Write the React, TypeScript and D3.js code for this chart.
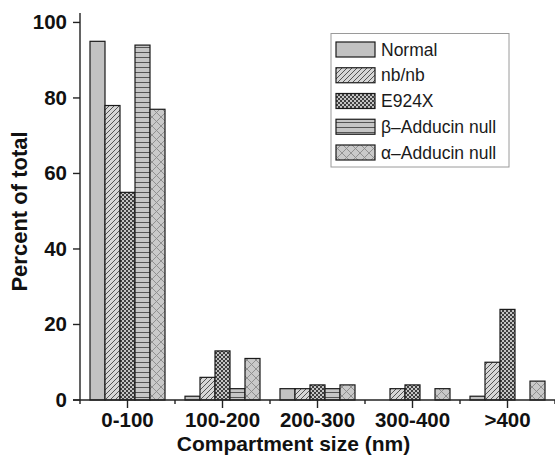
import React from "react";
import * as d3 from "d3";

const categories = ["0-100", "100-200", "200-300", "300-400", ">400"];
const seriesNames = ["Normal", "nb/nb", "E924X", "β–Adducin null", "α–Adducin null"];
const normal = [95, 1, 3, 0, 1];
const nbnb = [78, 6, 3, 3, 10];
const e924x = [55, 13, 4, 4, 24];
const betaNull = [94, 3, 3, 0, 0];
const alphaNull = [77, 11, 4, 3, 5];
const yTicks = [0, 20, 40, 60, 80, 100];

const seriesValues = [normal, nbnb, e924x, betaNull, alphaNull];
const fills = ["#c2c2c2", "url(#pNb)", "url(#pE9)", "url(#pBeta)", "url(#pAlpha)"];

export default function App() {
  const W = 555, H = 455;
  const x0 = d3.scaleBand<string>().domain(categories).range([80, 555]).paddingInner(0).paddingOuter(0);
  const x1 = d3.scaleBand<string>().domain(seriesNames).range([10, 85]);
  const y = d3.scaleLinear().domain([0, 102.5]).range([400, 13]);
  const font = "'Liberation Sans', Arial, sans-serif";
  const boundaries = categories.map((c) => x0(c)!).concat([x0.range()[1]]);

  return (
    <svg width={W} height={H} style={{ position: "absolute", left: 0, top: 0, background: "#fff" }}>
      <defs>
        <pattern id="pNb" width="5" height="5" patternUnits="userSpaceOnUse">
          <rect width="5" height="5" fill="#d6d6d6" />
          <path d="M-1,6 L6,-1 M-1,1 L1,-1 M4,6 L6,4" stroke="#444" strokeWidth="0.9" />
        </pattern>
        <pattern id="pE9" width="4" height="4" patternUnits="userSpaceOnUse">
          <rect width="4" height="4" fill="#c4c4c4" />
          <rect x="0" y="0" width="2" height="2" fill="#3f3f3f" />
          <rect x="2" y="2" width="2" height="2" fill="#3f3f3f" />
        </pattern>
        <pattern id="pBeta" width="5" height="5" patternUnits="userSpaceOnUse">
          <rect width="5" height="5" fill="#c6c6c6" />
          <path d="M0,2.5 L5,2.5" stroke="#555" strokeWidth="1" />
        </pattern>
        <pattern id="pAlpha" width="9" height="9" patternUnits="userSpaceOnUse">
          <rect width="9" height="9" fill="#c9c9c9" />
          <path d="M0,0 L9,9 M9,0 L0,9" stroke="#8a8a8a" strokeWidth="0.9" />
        </pattern>
      </defs>

      {/* bars */}
      {categories.map((c, ci) => (
        <g key={c} transform={`translate(${x0(c)},0)`}>
          {seriesNames.map((s, si) => {
            const v = seriesValues[si][ci];
            if (v <= 0) return null;
            return (
              <rect
                key={s}
                x={x1(s)}
                y={y(v)}
                width={x1.bandwidth()}
                height={y(0) - y(v)}
                fill={fills[si]}
                stroke="#1a1a1a"
                strokeWidth={1.2}
              />
            );
          })}
        </g>
      ))}

      {/* y axis */}
      <line x1={80} x2={80} y1={y(0)} y2={13} stroke="#222" strokeWidth={1.4} />
      {yTicks.map((t) => (
        <g key={t}>
          <line x1={73} x2={80} y1={y(t)} y2={y(t)} stroke="#222" strokeWidth={1.4} />
          <text x={67} y={y(t) + 7} textAnchor="end" fontFamily={font} fontWeight="bold" fontSize={20.5} fill="#111">
            {t}
          </text>
        </g>
      ))}

      {/* x axis */}
      <line x1={73} x2={555} y1={y(0)} y2={y(0)} stroke="#222" strokeWidth={1.4} />
      {boundaries.map((b, i) => (
        <line key={i} x1={b} x2={b} y1={y(0)} y2={y(0) + 4} stroke="#222" strokeWidth={1.4} />
      ))}
      {categories.map((c) => {
        const cx = x0(c)! + x0.bandwidth() / 2;
        return (
          <g key={c}>
            <line x1={cx} x2={cx} y1={y(0)} y2={y(0) + 8} stroke="#222" strokeWidth={1.4} />
            <text x={cx} y={426.5} textAnchor="middle" fontFamily={font} fontWeight="bold" fontSize={20.5} fill="#111">
              {c}
            </text>
          </g>
        );
      })}

      {/* axis titles */}
      <text x={293.5} y={450.5} textAnchor="middle" fontFamily={font} fontWeight="bold" fontSize={21} fill="#111">
        Compartment size (nm)
      </text>
      <text
        transform={`translate(27,211.5) rotate(-90)`}
        textAnchor="middle"
        fontFamily={font}
        fontWeight="bold"
        fontSize={22}
        fill="#111"
      >
        Percent of total
      </text>

      {/* legend */}
      <rect x={331} y={33.5} width={178} height={133.5} fill="#fff" stroke="#9a9a9a" strokeWidth={1} />
      {seriesNames.map((s, i) => {
        const cy = 49.5 + i * 25.75;
        return (
          <g key={s}>
            <rect x={336} y={cy - 7.5} width={39} height={15} fill={fills[i]} stroke="#1a1a1a" strokeWidth={1.2} />
            <text x={381} y={cy + 6} fontFamily={font} fontSize={17.5} fill="#1a1a1a">
              {s}
            </text>
          </g>
        );
      })}
    </svg>
  );
}
